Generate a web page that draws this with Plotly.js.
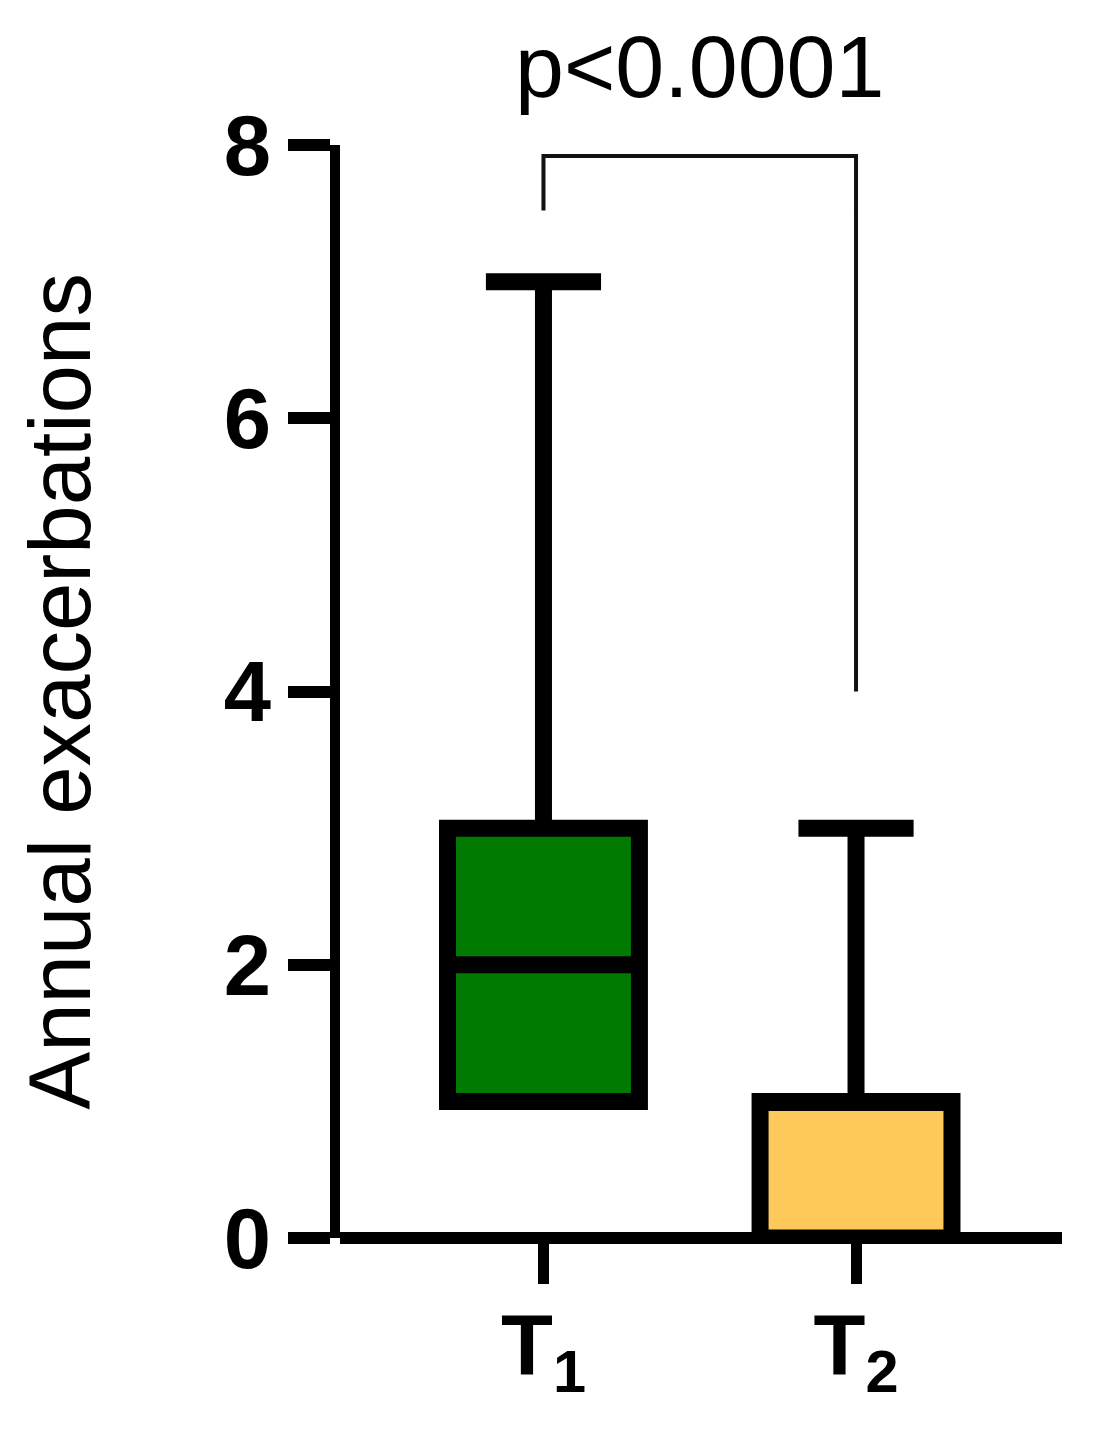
<!DOCTYPE html>
<html>
<head>
<meta charset="utf-8">
<script src="https://cdn.plot.ly/plotly-3.0.1.min.js"></script>
<style>html,body{margin:0;padding:0;background:#fff;}</style>
</head>
<body>
<div id="chart" style="width:1099px;height:1438px;"></div>
<script>
// Data
const categories = ['T1', 'T2'];
const tickLabels = ['T<sub>1</sub>', 'T<sub>2</sub>'];
const lowerFence = [1, 0];
const q1 = [1, 0];
const median = [2, 1];
const q3 = [3, 1];
const upperFence = [7, 3];
const boxColors = ['#007a00', '#ffc85a'];
const yTicks = [0, 2, 4, 6, 8];
const bracketX = ['T1', 'T1', 'T2', 'T2'];
const bracketY = [7.52, 7.92, 7.92, 4.0];
const pLabel = 'p&lt;0.0001';

const FONT = 'Liberation Sans, Arial, Helvetica, sans-serif';

const traces = categories.map((c, i) => ({
  type: 'box',
  x: [c],
  q1: [q1[i]],
  median: [median[i]],
  q3: [q3[i]],
  lowerfence: [lowerFence[i]],
  upperfence: [upperFence[i]],
  boxpoints: false,
  width: 0.614,
  whiskerwidth: 0.6,
  fillcolor: boxColors[i],
  line: {color: '#000000', width: 17},
  hoverinfo: 'skip',
  showlegend: false
}));

traces.push({
  type: 'scatter',
  mode: 'lines',
  x: bracketX,
  y: bracketY,
  line: {color: '#111111', width: 4},
  hoverinfo: 'skip',
  showlegend: false,
  cliponaxis: false
});

const layout = {
  width: 1099,
  height: 1438,
  margin: {l: 340, r: 37, t: 145, b: 200},
  paper_bgcolor: '#ffffff',
  plot_bgcolor: '#ffffff',
  showlegend: false,
  boxmode: 'overlay',
  xaxis: {
    type: 'category',
    categoryarray: categories,
    range: [-0.651, 1.659],
    tickvals: categories,
    ticktext: tickLabels,
    ticks: 'outside',
    ticklen: 45,
    tickwidth: 11,
    tickcolor: '#000000',
    ticklabelstandoff: -12,
    showgrid: false,
    showline: false,
    zeroline: false,
    automargin: false,
    tickfont: {family: FONT, size: 85, color: '#000000', weight: 'bold'}
  },
  yaxis: {
    range: [0, 8],
    tickvals: yTicks,
    ticktext: yTicks.map(String),
    ticks: 'outside',
    ticklen: 42,
    tickwidth: 12,
    tickcolor: '#000000',
    showline: true,
    linewidth: 10,
    linecolor: '#000000',
    zeroline: true,
    zerolinewidth: 12,
    zerolinecolor: '#000000',
    showgrid: false,
    automargin: false,
    tickfont: {family: FONT, size: 85, color: '#000000', weight: 'bold'},
    title: {
      text: 'Annual exacerbations',
      standoff: 108,
      font: {family: FONT, size: 87, color: '#000000'}
    }
  },
  annotations: [{
    x: 0.5,
    xref: 'x',
    y: 1.072,
    yref: 'paper',
    text: pLabel,
    showarrow: false,
    xanchor: 'center',
    yanchor: 'middle',
    font: {family: FONT, size: 88, color: '#000000'}
  }]
};

Plotly.newPlot('chart', traces, layout, {displayModeBar: false, staticPlot: true});
</script>
</body>
</html>
